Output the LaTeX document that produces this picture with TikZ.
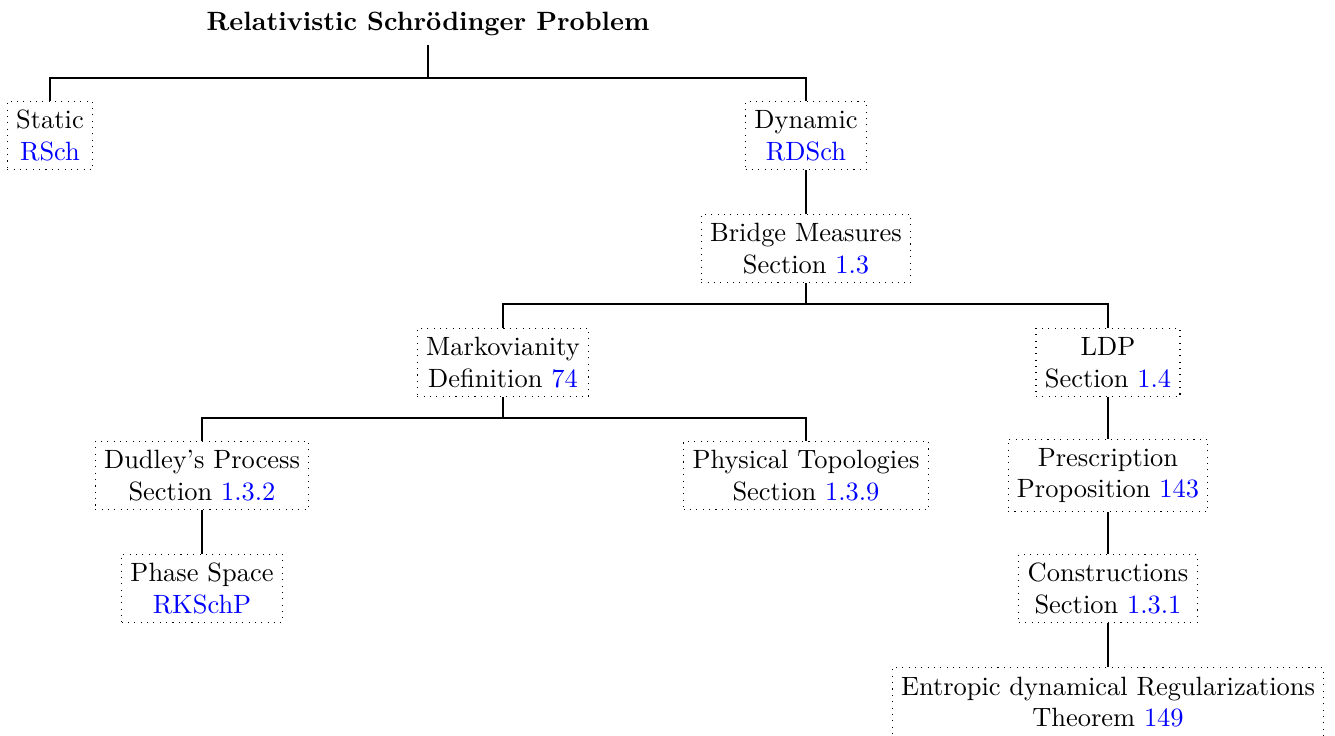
\documentclass[tikz,border=0pt]{standalone}
\usepackage{fontspec}
\usepackage{tikz}

\tikzset{
  tbox/.style={draw, dotted, align=center},
  link/.style={text=blue}
}

\begin{document}
\begin{tikzpicture}[x=0.01329cm, y=-0.01329cm]
      \useasboundingbox (0,0) rectangle (1335,736);
      % tree nodes
      \node (root) at (428,23.5) {\textbf{Relativistic Schrödinger Problem}};
      \node[tbox] (static) at (50,135.5) {Static\\\textcolor{blue}{RSch}};
      \node[tbox] (dynamic) at (806,135.5) {Dynamic\\\textcolor{blue}{RDSch}};
      \node[tbox] (bridge) at (806,248.5) {Bridge Measures\\Section \textcolor{blue}{1.3}};
      \node[tbox] (markov) at (503,362.5) {Markovianity\\Definition \textcolor{blue}{74}};
      \node[tbox] (ldp) at (1108,362.5) {LDP\\Section \textcolor{blue}{1.4}};
      \node[tbox] (dudley) at (202,475.5) {Dudley's Process\\Section \textcolor{blue}{1.3.2}};
      \node[tbox] (physical) at (806,475.5) {Physical Topologies\\Section \textcolor{blue}{1.3.9}};
      \node[tbox] (presc) at (1108,475.5) {Prescription\\Proposition \textcolor{blue}{143}};
      \node[tbox] (phase) at (202,588.5) {Phase Space\\\textcolor{blue}{RKSchP}};
      \node[tbox] (constr) at (1108,588.5) {Constructions\\Section \textcolor{blue}{1.3.1}};
      \node[tbox] (entropic) at (1108,702) {Entropic dynamical Regularizations\\Theorem \textcolor{blue}{149}};
      % forks
      \coordinate (forkroot) at (428,78);
      \coordinate (forkbridge) at (806,304);
      \coordinate (forkmarkov) at (503,418);
      \draw (root.south) -- (forkroot) -| (static.north);
      \draw (forkroot) -| (dynamic.north);
      \draw (dynamic.south) -- (bridge.north);
      \draw (bridge.south) -- (forkbridge) -| (markov.north);
      \draw (forkbridge) -| (ldp.north);
      \draw (markov.south) -- (forkmarkov) -| (dudley.north);
      \draw (forkmarkov) -| (physical.north);
      \draw (dudley.south) -- (phase.north);
      \draw (ldp.south) -- (presc.north);
      \draw (presc.south) -- (constr.north);
      \draw (constr.south) -- (entropic.north);
\end{tikzpicture}
\end{document}
